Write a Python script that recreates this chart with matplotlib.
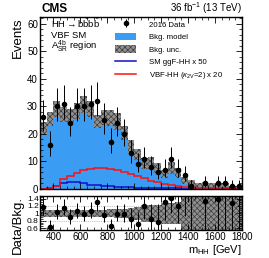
import numpy as np
import matplotlib
matplotlib.use('Agg')
import matplotlib.pyplot as plt
from matplotlib.patches import Patch
from matplotlib.lines import Line2D
from matplotlib.ticker import MultipleLocator, FixedLocator, FuncFormatter

plt.rcParams['font.family'] = ['Liberation Sans', 'DejaVu Sans']
plt.rcParams['mathtext.fontset'] = 'custom'
plt.rcParams['mathtext.rm'] = 'Liberation Sans'
plt.rcParams['mathtext.it'] = 'Liberation Sans:italic'
plt.rcParams['mathtext.bf'] = 'Liberation Sans:bold'
plt.rcParams['hatch.color'] = '#3d3d3d'
plt.rcParams['hatch.linewidth'] = 0.5

# ---------------- data ----------------
bin_edges = np.arange(300, 1801, 50)
data = [26, 16, 30, 31, 24, 30, 30, 31, 32, 25, 17, 24, 20, 13, 9,
        11, 8, 6, 7, 11, 7, 5, 1, 0, 2, 0, 2, 2, 1, 1]
bkg = [22.0, 25.5, 29.0, 27.0, 26.5, 28.3, 30.7, 29.0, 24.5, 26.0,
       25.8, 24.5, 20.4, 15.5, 12.5, 9.1, 9.5, 7.7, 5.4, 7.7,
       5.9, 3.0, 2.0, 1.3, 1.5, 1.3, 1.45, 1.3, 0.78, 0.65]
bkg_rel_unc = [0.10, 0.10, 0.10, 0.10, 0.10, 0.10, 0.10, 0.10, 0.10, 0.10,
               0.11, 0.12, 0.13, 0.15, 0.17, 0.22, 0.23, 0.24, 0.28, 0.28,
               0.30, 0.45, 0.55, 0.60, 0.60, 0.60, 0.60, 0.60, 0.60, 0.60]
ggf_x50 = [0.05, 0.2, 1.1, 2.0, 2.6, 2.4, 2.0, 1.6, 1.4, 1.2,
           1.1, 0.8, 0.7, 0.6, 0.5, 0.4, 0.35, 0.3, 0.25, 0.2,
           0.2, 0.15, 0.1, 0.1, 0.08, 0.07, 0.06, 0.05, 0.05, 0.04]
vbf_x20 = [0.05, 0.3, 1.2, 3.5, 4.7, 5.9, 6.9, 7.4, 7.8, 7.8,
           7.4, 6.9, 6.3, 5.5, 4.6, 3.9, 3.0, 2.4, 1.8, 1.45,
           1.1, 0.8, 0.6, 0.5, 0.4, 0.3, 0.25, 0.2, 0.15, 0.1]

data = np.array(data, float)
bkg = np.array(bkg, float)
unc = np.array(bkg_rel_unc) * bkg
centers = 0.5 * (bin_edges[:-1] + bin_edges[1:])
err_up = np.sqrt(data + 0.75) + 1.0
err_dn = np.sqrt(np.clip(data - 0.25, 0, None))
mask = data > 0

blue_fill = '#3a9cf2'
band_face = '#8f8f8f'
W, H = 269, 258
fig = plt.figure(figsize=(W / 100, H / 100), dpi=100)
ax = fig.add_axes([40 / W, 1 - 189 / H, 202 / W, 172 / H])
axr = fig.add_axes([40 / W, 1 - 230 / H, 202 / W, 34 / H], sharex=ax)

# main panel
ax.stairs(bkg, bin_edges, fill=True, color=blue_fill, lw=0)
lo = np.append(bkg - unc, (bkg - unc)[-1])
hi = np.append(bkg + unc, (bkg + unc)[-1])
ax.fill_between(bin_edges, lo, hi, step='post', facecolor=band_face,
                edgecolor='#3d3d3d', hatch='xxxxxx', lw=0)
ax.stairs(ggf_x50, bin_edges, color='#1010cc', lw=1.1)
ax.stairs(vbf_x20, bin_edges, color='#ff1010', lw=1.1)
ax.errorbar(centers[mask], data[mask], yerr=[err_dn[mask], err_up[mask]],
            fmt='o', color='black', ms=3, elinewidth=0.7, capsize=0)

ax.set_xlim(300, 1800)
ax.set_ylim(0, 62.5)
ax.yaxis.set_major_locator(MultipleLocator(10))
ax.yaxis.set_minor_locator(MultipleLocator(2))
ax.xaxis.set_major_locator(MultipleLocator(200))
ax.xaxis.set_minor_locator(MultipleLocator(50))
for a in (ax, axr):
    a.tick_params(which='both', direction='in', top=True, right=True, labelsize=7, pad=1.5)
    a.tick_params(which='major', length=4, width=0.6)
    a.tick_params(which='minor', length=2, width=0.5)
    for s in a.spines.values():
        s.set_linewidth(1.0)
axr.tick_params(axis='y', labelsize=6, pad=1)
ax.tick_params(labelbottom=False)
ax.set_ylabel('Events', fontsize=9.5, loc='top', labelpad=2)

# text
fig.text(41 / W, 1 - 12 / H, 'CMS', fontsize=8.5, weight='bold', va='baseline', ha='left')
fig.text(242 / W, 1 - 11.5 / H, r'36 fb$^{\mathrm{-1}}$ (13 TeV)', fontsize=7,
         va='baseline', ha='right')
fig.text(51 / W, 1 - 28 / H, r'HH$\rightarrow$b$\bar{\mathrm{b}}$b$\bar{\mathrm{b}}$',
         fontsize=6.8, va='baseline', ha='left')
fig.text(51 / W, 1 - 38.5 / H, 'VBF SM', fontsize=6.8, va='baseline', ha='left')
fig.text(51 / W, 1 - 49.5 / H, r'A$_{\mathrm{SR}}^{\mathrm{4b}}$ region', fontsize=6.8,
         va='baseline', ha='left')

# legend
h_data = ax.errorbar([], [], yerr=[[], []], fmt='o', color='black', ms=3,
                     elinewidth=0.7, capsize=0)
h_bkg = Patch(facecolor=blue_fill, edgecolor='none')
h_unc = Patch(facecolor=band_face, edgecolor='#3d3d3d', hatch='xxxxxx', lw=0)
h_ggf = Line2D([], [], color='#1010cc', lw=1.1)
h_vbf = Line2D([], [], color='#ff1010', lw=1.1)
leg = ax.legend([h_data, h_bkg, h_unc, h_ggf, h_vbf],
                ['2016 Data', 'Bkg. model', 'Bkg. unc.', 'SM ggF-HH x 50',
                 r'VBF-HH ($\kappa_{\mathrm{2V}}$=2) x 20'],
                loc='upper left', bbox_to_anchor=(115 / W, 1 - 20 / H),
                bbox_transform=fig.transFigure, frameon=False, fontsize=5.6,
                borderpad=0, borderaxespad=0, handlelength=2.75,
                handleheight=1.2, handletextpad=1.6, labelspacing=0.5)

# ratio panel
ratio = np.where(mask, data / bkg, np.nan)
r_up = err_up / bkg
r_dn = err_dn / bkg
rel = np.array(bkg_rel_unc)
rlo = np.append(1 - rel, 1 - rel[-1])
rhi = np.append(1 + rel, 1 + rel[-1])
axr.fill_between(bin_edges, rlo, rhi, step='post', facecolor=band_face,
                 edgecolor='#3d3d3d', hatch='xxxxxx', lw=0)
for yv in (0.8, 1.0, 1.2):
    axr.axhline(yv, color='#888888', lw=0.5, ls=':')
axr.errorbar(centers[mask], ratio[mask], yerr=[r_dn[mask], r_up[mask]],
             fmt='o', color='black', ms=3, elinewidth=0.7, capsize=0)
axr.set_ylim(0.55, 1.47)
axr.yaxis.set_major_locator(FixedLocator([0.6, 0.8, 1.0, 1.2, 1.4]))
axr.yaxis.set_minor_locator(MultipleLocator(0.05))
axr.yaxis.set_major_formatter(FuncFormatter(lambda v, p: ('%g' % round(v, 2))))
axr.set_xlim(300, 1800)
axr.set_xlabel(r'm$_{\mathrm{HH}}$ [GeV]', fontsize=8, loc='right', labelpad=1)
axr.set_ylabel('Data/Bkg.', fontsize=9.5, loc='top', labelpad=2)

fig.savefig('out.png', dpi=100)
